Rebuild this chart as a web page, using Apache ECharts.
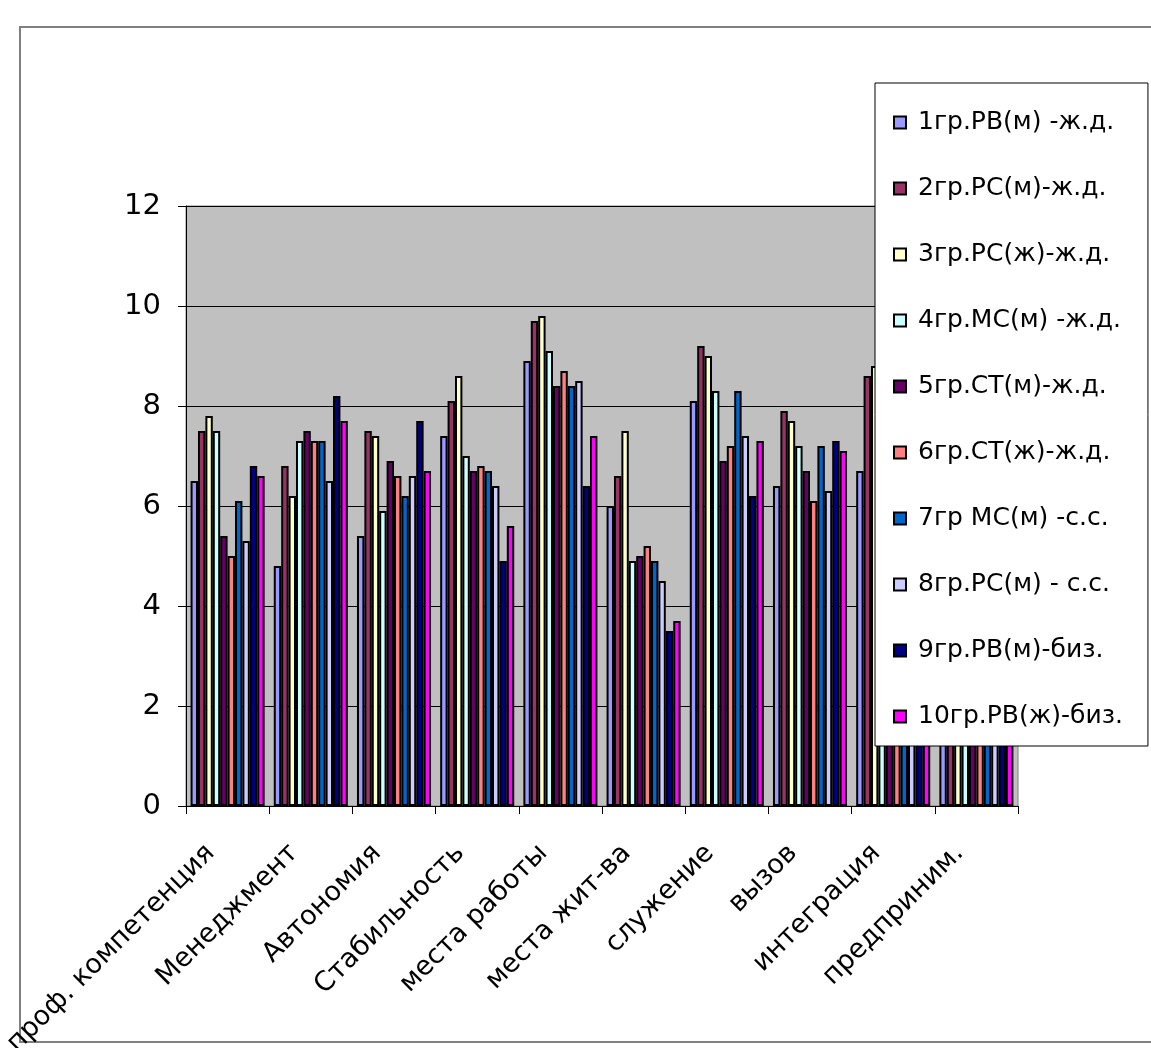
<!DOCTYPE html>
<html>
<head>
<meta charset="utf-8">
<script src="https://cdn.jsdelivr.net/npm/echarts@6/dist/echarts.min.js"></script>
<style>
  html, body { margin: 0; padding: 0; background: #fff; }
  #chart { width: 1151px; height: 1048px; }
</style>
</head>
<body>
<div id="chart"></div>
<script>
// категории (якоря карьеры)
const categories = ['проф. компетенция', 'Менеджмент', 'Автономия', 'Стабильность', 'места работы',
  'места жит-ва', 'служение', 'вызов', 'интеграция', 'предприним.']

const groups = ['1гр.РВ(м) -ж.д.', '2гр.РС(м)-ж.д.', '3гр.РС(ж)-ж.д.', '4гр.МС(м) -ж.д.', '5гр.СТ(м)-ж.д.',
  '6гр.СТ(ж)-ж.д.', '7гр МС(м) -с.с.', '8гр.РС(м) - с.с.', '9гр.РВ(м)-биз.', '10гр.РВ(ж)-биз.']

const colors = ['#9999FF', '#993366', '#FFFFCC', '#CCFFFF', '#660066',
  '#FF8080', '#0066CC', '#CCCCFF', '#000080', '#FF00FF']

// значения по группам (последние две категории частично закрыты легендой - оценка)
const g1 = [6.5, 4.8, 5.4, 7.4, 8.9, 6.0, 8.1, 6.4, 6.7, 6.0]
const g2 = [7.5, 6.8, 7.5, 8.1, 9.7, 6.6, 9.2, 7.9, 8.6, 6.5]
const g3 = [7.8, 6.2, 7.4, 8.6, 9.8, 7.5, 9.0, 7.7, 8.8, 5.8]
const g4 = [7.5, 7.3, 5.9, 7.0, 9.1, 4.9, 8.3, 7.2, 8.0, 6.2]
const g5 = [5.4, 7.5, 6.9, 6.7, 8.4, 5.0, 6.9, 6.7, 7.6, 5.5]
const g6 = [5.0, 7.3, 6.6, 6.8, 8.7, 5.2, 7.2, 6.1, 7.9, 5.0]
const g7 = [6.1, 7.3, 6.2, 6.7, 8.4, 4.9, 8.3, 7.2, 8.2, 6.4]
const g8 = [5.3, 6.5, 6.6, 6.4, 8.5, 4.5, 7.4, 6.3, 7.5, 5.9]
const g9 = [6.8, 8.2, 7.7, 4.9, 6.4, 3.5, 6.2, 7.3, 7.0, 7.5]
const g10 = [6.6, 7.7, 6.7, 5.6, 7.4, 3.7, 7.3, 7.1, 7.8, 6.8]
const values = [g1, g2, g3, g4, g5, g6, g7, g8, g9, g10]

const yTicks = [0, 2, 4, 6, 8, 10, 12]

const font = 'DejaVu Sans, Arial, sans-serif'
const chart = echarts.init(document.getElementById('chart'))

chart.setOption({
  animation: false,
  color: colors,
  textStyle: { fontFamily: font },
  graphic: [{
    type: 'rect',
    shape: { x: 20, y: 27, width: 1200, height: 1015 },
    style: { fill: 'none', stroke: '#808080', lineWidth: 2 },
    z: 0
  }],
  grid: {
    left: 186, right: 133, top: 206, bottom: 242,
    containLabel: false,
    outerBoundsMode: 'none',
    show: true,
    backgroundColor: '#C0C0C0',
    borderColor: '#808080',
    borderWidth: 1
  },
  legend: {
    orient: 'vertical',
    left: 875, top: 83,
    data: groups,
    itemWidth: 12, itemHeight: 12,
    itemGap: 41,
    padding: [27, 25, 17, 18],
    backgroundColor: '#fff',
    borderColor: '#000',
    borderWidth: 1,
    textStyle: { fontSize: 25, color: '#000', fontFamily: font, padding: [0, 0, 0, 7] },
    icon: 'rect',
    itemStyle: { borderColor: '#000', borderWidth: 2 }
  },
  xAxis: {
    type: 'category',
    data: categories,
    axisLine: { lineStyle: { color: '#000', width: 1 } },
    axisTick: { show: true, interval: 0, length: 8, lineStyle: { color: '#000' } },
    axisLabel: {
      interval: 0, rotate: 45, fontSize: 27, color: '#000', margin: 26,
      padding: [0, 24, 0, 0], fontFamily: font
    }
  },
  yAxis: {
    type: 'value',
    min: yTicks[0], max: yTicks[yTicks.length - 1], interval: 2,
    axisLine: { show: true, lineStyle: { color: '#000', width: 1 } },
    axisTick: { show: true, length: 8, lineStyle: { color: '#000' } },
    axisLabel: { fontSize: 29, color: '#000', margin: 25, fontFamily: font },
    splitLine: { lineStyle: { color: '#000', width: 1 } }
  },
  series: groups.map((name, i) => ({
    name: name,
    type: 'bar',
    data: values[i],
    barGap: '0%',
    barCategoryGap: '11%',
    itemStyle: { color: colors[i], borderColor: '#000', borderWidth: 2 }
  }))
})
</script>
</body>
</html>
